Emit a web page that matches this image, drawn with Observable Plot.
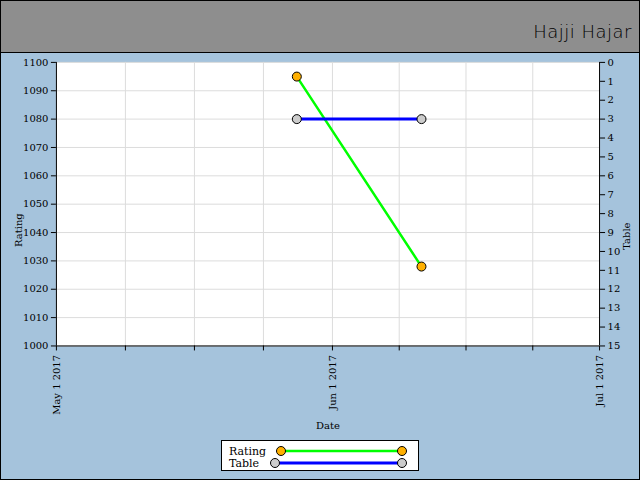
<!DOCTYPE html>
<html>
<head>
<meta charset="utf-8">
<script src="https://cdn.jsdelivr.net/npm/d3@7"></script>
<script src="https://cdn.jsdelivr.net/npm/@observablehq/plot@0.6"></script>
<style>
  html, body { margin: 0; padding: 0; }
  #wrap { position: relative; width: 640px; height: 480px; background: #a5c3dc; box-sizing: border-box; border: 1px solid #000; overflow: hidden; font-family: "DejaVu Serif", serif; }
  #header { position: absolute; left: 0; top: 0; width: 638px; height: 51px; background: #8e8e8e; border-bottom: 1px solid #000; }
  #title { position: absolute; right: 7px; top: 20px; font-family: "DejaVu Sans", sans-serif; font-weight: 200; font-size: 18px; color: #000; letter-spacing: 0.5px; }
  #chart { position: absolute; left: -1px; top: -1px; }
  #legend { position: absolute; left: 220px; top: 439px; }
</style>
</head>
<body>
<div id="wrap">
  <div id="header"><div id="title">Hajji Hajar</div></div>
  <div id="chart"></div>
  <div id="legend"></div>
</div>
<script>
// Data
const dates = ["2017-05-28", "2017-06-11"];
const rating = [1095, 1028];
const table = [3, 3];
// Axis ticks
const ratingTicks = [1000, 1010, 1020, 1030, 1040, 1050, 1060, 1070, 1080, 1090, 1100];
const tableTicks = [0, 1, 2, 3, 4, 5, 6, 7, 8, 9, 10, 11, 12, 13, 14, 15];
const dateLabelTicks = ["2017-05-01", "2017-06-01", "2017-07-01"];
const dateMinorTicks = ["2017-05-08T18:00", "2017-05-16T12:00", "2017-05-24T06:00",
                        "2017-06-08T12:00", "2017-06-16T00:00", "2017-06-23T12:00"];
const xDomain = ["2017-05-01", "2017-07-01"];
const ratingDomain = [1000, 1100];
const tableDomain = [0, 15];

const parse = s => new Date(s + (s.length === 10 ? "T00:00" : "") + "Z");
// map table value (inverted, right axis) onto rating coordinate space
const t2r = t => ratingDomain[1] - (t - tableDomain[0]) * (ratingDomain[1] - ratingDomain[0]) / (tableDomain[1] - tableDomain[0]);
const r2t = r => String(Math.round((ratingDomain[1] - r) * (tableDomain[1] - tableDomain[0]) / (ratingDomain[1] - ratingDomain[0])));

const ratingData = dates.map((d, i) => ({date: parse(d), value: rating[i]}));
const tableData = dates.map((d, i) => ({date: parse(d), value: t2r(table[i])}));
const allX = [...dateLabelTicks, ...dateMinorTicks].map(parse);

const plot = Plot.plot({
  width: 640,
  height: 480,
  marginTop: 62,
  marginLeft: 56,
  marginRight: 40,
  marginBottom: 134,
  style: {background: "transparent", fontFamily: "DejaVu Serif, serif", fontSize: "10px", color: "#000"},
  x: {type: "utc", domain: xDomain.map(parse)},
  y: {domain: ratingDomain},
  marks: [
    Plot.frame({fill: "#fff", stroke: null}),
    Plot.gridX(allX, {stroke: "#dcdcdc", strokeOpacity: 1}),
    Plot.gridY(ratingTicks, {stroke: "#dcdcdc", strokeOpacity: 1}),
    Plot.ruleX([parse(xDomain[0]), parse(xDomain[1])], {stroke: "#000"}),
    Plot.ruleY([ratingDomain[0]], {stroke: "#000"}),
    Plot.axisY(ratingTicks, {anchor: "left", tickSize: 5, tickPadding: 3, tickFormat: d3.format("d"), label: null}),
    Plot.axisY(tableTicks.map(t2r), {anchor: "right", tickSize: 5, tickPadding: 3, tickFormat: r2t, label: null}),
    Plot.axisX(dateLabelTicks.map(parse), {anchor: "bottom", tickSize: 5, tickPadding: 4, tickRotate: -90, tickFormat: d3.utcFormat("%b %-d %Y"), label: null}),
    Plot.axisX(dateMinorTicks.map(parse), {anchor: "bottom", tickSize: 5, tickFormat: () => "", label: null}),
    Plot.text(["Rating"], {frameAnchor: "left", textAnchor: "middle", rotate: -90, dx: -38, dy: 26, fill: "#000"}),
    Plot.text(["Table"], {frameAnchor: "right", textAnchor: "middle", rotate: -90, dx: 27, dy: 32, fill: "#000"}),
    Plot.text(["Date"], {frameAnchor: "bottom", dy: 83, fill: "#000"}),
    Plot.line(ratingData, {x: "date", y: "value", stroke: "#00ff00", strokeWidth: 2.5}),
    Plot.line(tableData, {x: "date", y: "value", stroke: "#0000ff", strokeWidth: 3}),
    Plot.dot(ratingData, {x: "date", y: "value", r: 4.5, fill: "#ffb000", stroke: "#000", strokeWidth: 1}),
    Plot.dot(tableData, {x: "date", y: "value", r: 4.5, fill: "#cccccc", stroke: "#000", strokeWidth: 1})
  ]
});
document.getElementById("chart").appendChild(plot);

// Legend
const legendItems = [
  {name: "Rating", color: "#00ff00", fill: "#ffb000", x1: 60, width: 2.5},
  {name: "Table", color: "#0000ff", fill: "#cccccc", x1: 54, width: 3}
];
const lg = d3.select("#legend").append("svg").attr("width", 198).attr("height", 32);
lg.append("rect").attr("x", 0.5).attr("y", 0.5).attr("width", 197).attr("height", 30).attr("fill", "#fff").attr("stroke", "#000");
legendItems.forEach((it, i) => {
  const y = 11 + i * 12;
  lg.append("text").attr("x", 8).attr("y", y + 4).attr("font-size", 11).attr("font-family", "DejaVu Serif, serif").text(it.name);
  lg.append("line").attr("x1", it.x1).attr("x2", 181).attr("y1", y).attr("y2", y).attr("stroke", it.color).attr("stroke-width", it.width);
  [it.x1, 181].forEach(cx => lg.append("circle").attr("cx", cx).attr("cy", y).attr("r", 4.5).attr("fill", it.fill).attr("stroke", "#000"));
});
</script>
</body>
</html>
